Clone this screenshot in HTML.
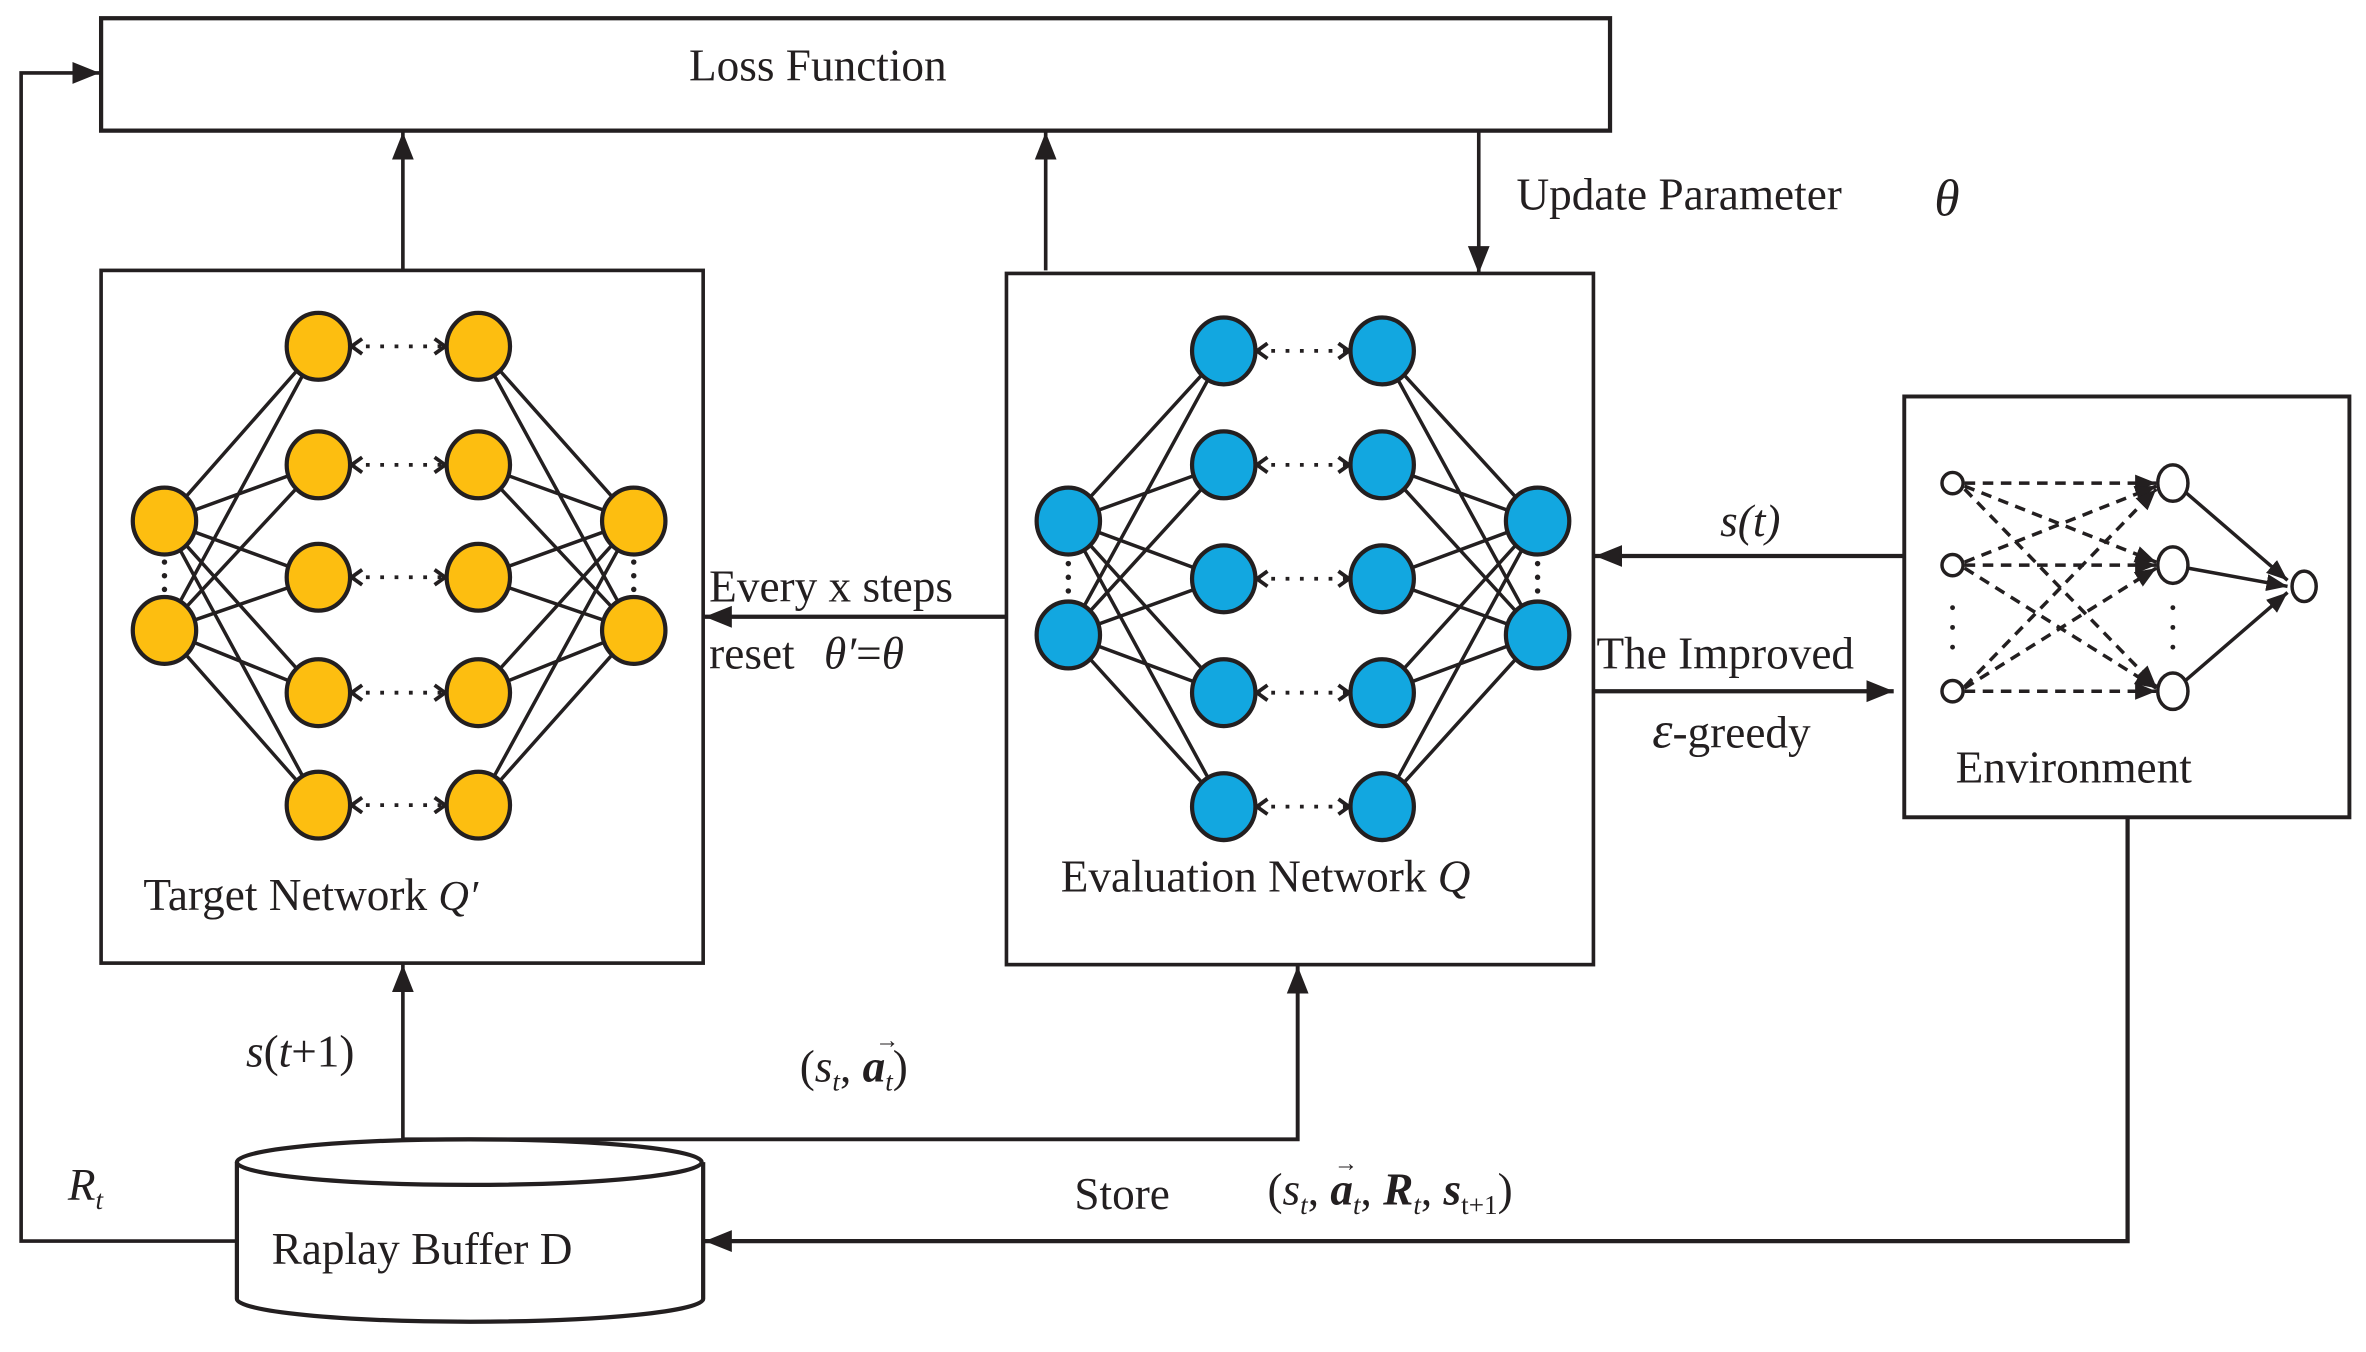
<!DOCTYPE html>
<html><head><meta charset="utf-8"><style>html,body{margin:0;padding:0;background:#fff}svg{display:block}text{font-family:"Liberation Serif",serif;fill:#231f20}</style></head><body>
<svg width="2366" height="1352" viewBox="0 0 1568 890" preserveAspectRatio="none" xmlns="http://www.w3.org/2000/svg">
<defs>
<marker id="a" viewBox="0 0 10 10" refX="10" refY="5" markerWidth="18" markerHeight="18" markerUnits="userSpaceOnUse" orient="auto"><path d="M0,1 L10,5 L0,9 Z" fill="#231f20"/></marker>
<marker id="c" viewBox="0 0 10 10" refX="9" refY="5" markerWidth="10" markerHeight="12" markerUnits="userSpaceOnUse" orient="auto-start-reverse"><path d="M2,0 L9,5 L2,10" fill="none" stroke="#231f20" stroke-width="2.5"/></marker>
<marker id="s" viewBox="0 0 10 10" refX="10" refY="5" markerWidth="14" markerHeight="14" markerUnits="userSpaceOnUse" orient="auto"><path d="M0,1 L10,5 L0,9 Z" fill="#231f20"/></marker>
</defs>
<g stroke="#231f20" fill="none" stroke-width="2.8">
<rect x="67" y="12" width="1000" height="74"/>
<rect x="67" y="178" width="399" height="456" stroke-width="2.4"/>
<rect x="667" y="180" width="389" height="455" stroke-width="2.4"/>
<rect x="1262" y="261" width="295" height="277" stroke-width="2.6"/>
<polyline points="157,817 14,817 14,48 66,48" marker-end="url(#a)" stroke-width="2.4"/>
<line x1="267" y1="178" x2="267" y2="87" marker-end="url(#a)" stroke-width="2.4"/>
<line x1="693" y1="178" x2="693" y2="87" marker-end="url(#a)" stroke-width="2.4"/>
<line x1="980" y1="86" x2="980" y2="180" marker-end="url(#a)" stroke-width="2.4"/>
<line x1="667" y1="406" x2="467" y2="406" marker-end="url(#a)"/>
<line x1="1262" y1="366" x2="1057" y2="366" marker-end="url(#a)"/>
<line x1="1056" y1="455" x2="1255" y2="455" marker-end="url(#a)"/>
<polyline points="1410,538 1410,817 467,817" marker-end="url(#a)" stroke-width="2.8"/>
<line x1="267" y1="750" x2="267" y2="635" marker-end="url(#a)" stroke-width="2.4"/>
<polyline points="267,750 860,750 860,636" marker-end="url(#a)" stroke-width="2.6"/>
<path d="M157,765 L157,855 A154,15 0 0 0 466,855 L466,765" fill="#fff"/>
<ellipse cx="311" cy="765" rx="154" ry="15" fill="#fff"/>
</g>
<g stroke="#231f20" stroke-width="2.3">
<path d="M109,343L211,228M109,343L211,306M109,343L211,380M109,343L211,456M109,343L211,530M109,415L211,228M109,415L211,306M109,415L211,380M109,415L211,456M109,415L211,530"/>
<path d="M317,228L420,343M317,306L420,343M317,380L420,343M317,456L420,343M317,530L420,343M317,228L420,415M317,306L420,415M317,380L420,415M317,456L420,415M317,530L420,415"/>
<path d="M708,343L811,231M708,343L811,306M708,343L811,381M708,343L811,456M708,343L811,531M708,418L811,231M708,418L811,306M708,418L811,381M708,418L811,456M708,418L811,531"/>
<path d="M916,231L1019,343M916,306L1019,343M916,381L1019,343M916,456L1019,343M916,531L1019,343M916,231L1019,418M916,306L1019,418M916,381L1019,418M916,456L1019,418M916,531L1019,418"/>
</g>
<g stroke="#231f20" stroke-width="2.5" stroke-dasharray="2.5,7" marker-start="url(#c)" marker-end="url(#c)">
<line x1="233" y1="228" x2="295" y2="228"/><line x1="233" y1="306" x2="295" y2="306"/><line x1="233" y1="380" x2="295" y2="380"/><line x1="233" y1="456" x2="295" y2="456"/><line x1="233" y1="530" x2="295" y2="530"/>
<line x1="833" y1="231" x2="894" y2="231"/><line x1="833" y1="306" x2="894" y2="306"/><line x1="833" y1="381" x2="894" y2="381"/><line x1="833" y1="456" x2="894" y2="456"/><line x1="833" y1="531" x2="894" y2="531"/>
</g>
<g fill="#fdbe10" stroke="#231f20" stroke-width="2.8">
<ellipse cx="109" cy="343" rx="21" ry="22"/><ellipse cx="109" cy="415" rx="21" ry="22"/>
<ellipse cx="211" cy="228" rx="21" ry="22"/><ellipse cx="211" cy="306" rx="21" ry="22"/><ellipse cx="211" cy="380" rx="21" ry="22"/><ellipse cx="211" cy="456" rx="21" ry="22"/><ellipse cx="211" cy="530" rx="21" ry="22"/>
<ellipse cx="317" cy="228" rx="21" ry="22"/><ellipse cx="317" cy="306" rx="21" ry="22"/><ellipse cx="317" cy="380" rx="21" ry="22"/><ellipse cx="317" cy="456" rx="21" ry="22"/><ellipse cx="317" cy="530" rx="21" ry="22"/>
<ellipse cx="420" cy="343" rx="21" ry="22"/><ellipse cx="420" cy="415" rx="21" ry="22"/>
</g>
<g fill="#12a7e0" stroke="#231f20" stroke-width="2.8">
<ellipse cx="708" cy="343" rx="21" ry="22"/><ellipse cx="708" cy="418" rx="21" ry="22"/>
<ellipse cx="811" cy="231" rx="21" ry="22"/><ellipse cx="811" cy="306" rx="21" ry="22"/><ellipse cx="811" cy="381" rx="21" ry="22"/><ellipse cx="811" cy="456" rx="21" ry="22"/><ellipse cx="811" cy="531" rx="21" ry="22"/>
<ellipse cx="916" cy="231" rx="21" ry="22"/><ellipse cx="916" cy="306" rx="21" ry="22"/><ellipse cx="916" cy="381" rx="21" ry="22"/><ellipse cx="916" cy="456" rx="21" ry="22"/><ellipse cx="916" cy="531" rx="21" ry="22"/>
<ellipse cx="1019" cy="343" rx="21" ry="22"/><ellipse cx="1019" cy="418" rx="21" ry="22"/>
</g>
<g fill="#231f20">
<circle cx="109" cy="370" r="1.8"/><circle cx="109" cy="379" r="1.8"/><circle cx="109" cy="388" r="1.8"/>
<circle cx="420" cy="370" r="1.8"/><circle cx="420" cy="379" r="1.8"/><circle cx="420" cy="388" r="1.8"/>
<circle cx="708" cy="371" r="1.8"/><circle cx="708" cy="380" r="1.8"/><circle cx="708" cy="389" r="1.8"/>
<circle cx="1019" cy="371" r="1.8"/><circle cx="1019" cy="380" r="1.8"/><circle cx="1019" cy="389" r="1.8"/>
<circle cx="1294" cy="400" r="1.6"/><circle cx="1294" cy="413" r="1.6"/><circle cx="1294" cy="426" r="1.6"/>
<circle cx="1440" cy="400" r="1.6"/><circle cx="1440" cy="413" r="1.6"/><circle cx="1440" cy="426" r="1.6"/>
</g>
<g stroke="#231f20" stroke-width="2.3" stroke-dasharray="7,5" marker-end="url(#s)">
<line x1="1302" y1="318" x2="1429" y2="318"/><line x1="1302" y1="320" x2="1429" y2="370"/><line x1="1302" y1="322" x2="1429" y2="452"/>
<line x1="1302" y1="370" x2="1429" y2="320"/><line x1="1302" y1="372" x2="1429" y2="372"/><line x1="1302" y1="374" x2="1429" y2="453"/>
<line x1="1302" y1="452" x2="1429" y2="322"/><line x1="1302" y1="453" x2="1429" y2="374"/><line x1="1302" y1="455" x2="1429" y2="455"/>
</g>
<g stroke="#231f20" stroke-width="2.3" marker-end="url(#s)">
<line x1="1446" y1="322" x2="1516" y2="382"/><line x1="1450" y1="374" x2="1516" y2="386"/><line x1="1446" y1="450" x2="1516" y2="390"/>
</g>
<g fill="#fff" stroke="#231f20" stroke-width="2.3">
<ellipse cx="1294" cy="318" rx="7" ry="7"/><ellipse cx="1294" cy="372" rx="7" ry="7"/><ellipse cx="1294" cy="455" rx="7" ry="7"/>
<ellipse cx="1440" cy="318" rx="10" ry="12"/><ellipse cx="1440" cy="372" rx="10" ry="12"/><ellipse cx="1440" cy="455" rx="10" ry="12"/>
<ellipse cx="1527" cy="386" rx="8" ry="10"/>
</g>
<text x="542" y="53" font-size="30" text-anchor="middle">Loss Function</text>
<text x="1005" y="138" font-size="30">Update Parameter</text>
<text x="1282" y="142" font-size="34" font-style="italic">θ</text>
<text x="95" y="599" font-size="30">Target Network <tspan font-style="italic" font-size="28">Q′</tspan></text>
<text x="703" y="587" font-size="30">Evaluation Network <tspan font-style="italic" font-size="30">Q</tspan></text>
<text x="470" y="396" font-size="30">Every x steps</text>
<text x="470" y="440" font-size="30">reset <tspan dx="12" font-style="italic">θ′</tspan>=<tspan font-style="italic">θ</tspan></text>
<text x="1140" y="353" font-size="30" font-style="italic">s(t)</text>
<text x="1058" y="440" font-size="30">The Improved</text>
<text x="1095" y="492" font-size="30"><tspan font-style="italic" font-size="34">ε</tspan>-greedy</text>
<text x="1296" y="515" font-size="30">Environment</text>
<text x="163" y="702" font-size="30"><tspan font-style="italic">s</tspan>(<tspan font-style="italic">t</tspan>+1)</text>
<text x="530" y="712" font-size="30">(<tspan font-style="italic">s</tspan><tspan font-size="18" dy="6" font-style="italic">t</tspan><tspan dy="-6">, </tspan><tspan font-style="italic" font-weight="bold">a</tspan><tspan font-size="18" dy="6" font-style="italic">t</tspan><tspan dy="-6">)</tspan></text>
<text x="580" y="690" font-size="16">→</text>
<text x="45" y="790" font-size="30" font-style="italic">R<tspan font-size="18" dy="6">t</tspan></text>
<text x="712" y="796" font-size="30">Store</text>
<text x="840" y="793" font-size="30">(<tspan font-style="italic">s</tspan><tspan font-size="18" dy="6" font-style="italic">t</tspan><tspan dy="-6">, </tspan><tspan font-style="italic" font-weight="bold">a</tspan><tspan font-size="18" dy="6" font-style="italic">t</tspan><tspan dy="-6">, </tspan><tspan font-style="italic" font-weight="bold">R</tspan><tspan font-size="18" dy="6" font-style="italic">t</tspan><tspan dy="-6">, </tspan><tspan font-style="italic" font-weight="bold">s</tspan><tspan font-size="18" dy="6">t+1</tspan><tspan dy="-6">)</tspan></text>
<text x="884" y="771" font-size="16">→</text>
<text x="180" y="832" font-size="30">Raplay Buffer  D</text>
</svg>
</body></html>
